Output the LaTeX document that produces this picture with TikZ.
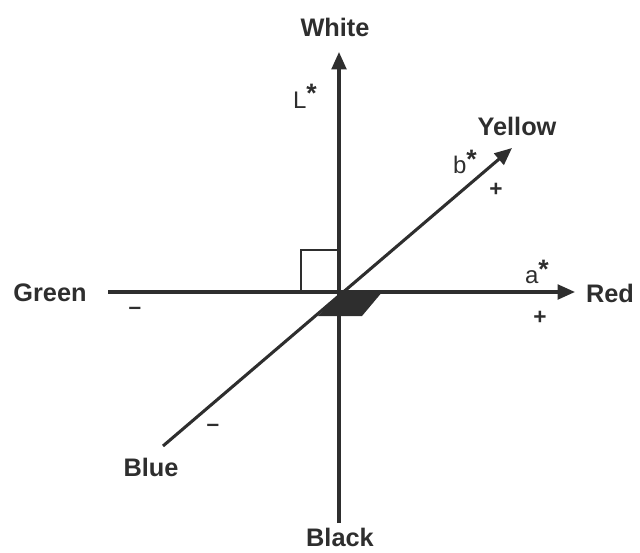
\documentclass[tikz,border=0pt]{standalone}
\usepackage{fontspec}
\setmainfont{Liberation Sans}
\usetikzlibrary{arrows.meta}
\definecolor{ink}{gray}{0.18}
\newcommand{\bigstar}{\raisebox{0.45ex}{\fontsize{20}{20}\selectfont\bfseries *}}
\tikzset{
  axis/.style={draw=ink, line width=2.3pt},
  axisarrow/.style={axis, -{Triangle[length=13pt,width=11pt]}},
  big/.style={text=ink, inner sep=0pt, font=\fontsize{19}{22}\selectfont\bfseries},
  small/.style={text=ink, inner sep=0pt, font=\fontsize{18}{20}\selectfont},
  sign/.style={text=ink, inner sep=0pt, font=\fontsize{17}{18}\selectfont\bfseries},
}
\begin{document}
\begin{tikzpicture}[x=0.75pt,y=-0.75pt]
\useasboundingbox (0,0) rectangle (640,553);
% axis end points
\coordinate (Ltop) at (339,52);
\coordinate (Lbot) at (339,523);
\coordinate (Aleft) at (108,292);
\coordinate (Aright) at (575,292);
\coordinate (Bbot) at (163,446);
\coordinate (Btop) at (512,148);
% shaded parallelogram
\fill[ink] (342,291) -- (383,291) -- (362,316) -- (318,316) -- cycle;
% right angle mark
\draw[draw=ink, line width=2pt] (301,292) -- (301,250) -- (339,250);
% axes
\draw[axisarrow] (Lbot) -- (Ltop);
\draw[axisarrow] (Aleft) -- (Aright);
\draw[axisarrow] (Bbot) -- (Btop);
% labels
\node[big] (white) at (335,27) {White};
\node[big] (black) at (340,537) {Black};
\node[big] (green) at (50,293) {Green};
\node[big] (red) at (610,293) {Red};
\node[big] (yellow) at (517,126) {Yellow};
\node[big] (blue) at (151,467) {Blue};
\node[small] (lstar) at (305,96) {L\bigstar};
\node[small] (bstar) at (465,162) {b\bigstar};
\node[small] (astar) at (537,272) {a\bigstar};
\node[sign] (bplus) at (496,190) {+};
\node[sign] (aplus) at (540,318) {+};
\node[sign] (gminus) at (135,311) {–};
\node[sign] (bminus) at (213,428) {–};
\end{tikzpicture}
\end{document}
